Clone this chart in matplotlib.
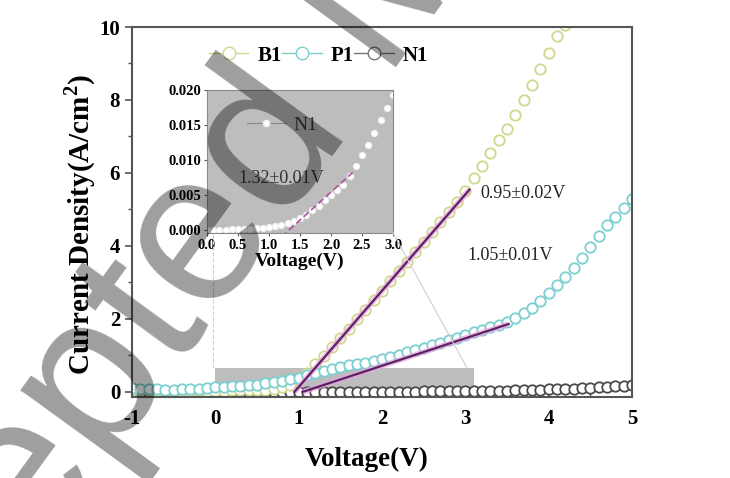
import numpy as np
import matplotlib
matplotlib.use("Agg")
import matplotlib.pyplot as plt

plt.rcParams["font.family"] = ["Liberation Serif", "DejaVu Serif"]
plt.rcParams["mathtext.fontset"] = "custom"
plt.rcParams["mathtext.rm"] = "Liberation Serif"
plt.rcParams["mathtext.bf"] = "Liberation Serif:bold"
plt.rcParams["axes.unicode_minus"] = False

# voltage sweep, -1 V to 5 V in 0.1 V steps
voltage = np.round(np.arange(-1.0, 5.01, 0.1), 2)

b1 = [0.04, 0.04, 0.04, 0.03, 0.03, 0.03, 0.03, 0.03, 0.03, 0.03,
      0.03, 0.03, 0.04, 0.04, 0.04, 0.05, 0.06, 0.08, 0.12, 0.20,
      0.32, 0.52, 0.76, 0.98, 1.22, 1.47, 1.73, 1.99, 2.25, 2.51,
      2.77, 3.04, 3.30, 3.57, 3.84, 4.11, 4.38, 4.65, 4.93, 5.21,
      5.50, 5.85, 6.20, 6.55, 6.90, 7.20, 7.60, 8.00, 8.40, 8.85,
      9.30, 9.75, 10.05, 10.50, 10.95, 11.40, 11.85, 12.30, 12.75, 13.20,
      13.65]
p1 = [0.10, 0.09, 0.08, 0.07, 0.06, 0.06, 0.07, 0.08, 0.09, 0.10,
      0.12, 0.13, 0.15, 0.16, 0.18, 0.20, 0.23, 0.26, 0.30, 0.34,
      0.39, 0.45, 0.51, 0.58, 0.64, 0.69, 0.73, 0.77, 0.80, 0.84,
      0.89, 0.95, 1.01, 1.08, 1.15, 1.21, 1.28, 1.35, 1.42, 1.49,
      1.56, 1.63, 1.70, 1.77, 1.84, 1.92, 2.03, 2.16, 2.31, 2.48,
      2.70, 2.93, 3.15, 3.40, 3.68, 3.98, 4.28, 4.56, 4.80, 5.05,
      5.28]
n1 = [0.0, 0.0, 0.0, 0.0, 0.0, 0.0, 0.0, 0.0, 0.0, 0.0,
      0.0, 0.0, 0.0, 0.0, 0.0001, 0.0001, 0.0002, 0.0002, 0.0003, 0.0003,
      0.0004, 0.0006, 0.0008, 0.0010, 0.0013, 0.0017, 0.0022, 0.0029, 0.0035, 0.0043,
      0.0050, 0.0057, 0.0064, 0.0077, 0.0092, 0.0107, 0.0122, 0.0139, 0.0157, 0.0175,
      0.0193, 0.022, 0.025, 0.029, 0.033, 0.037, 0.042, 0.047, 0.053, 0.059,
      0.066, 0.074, 0.082, 0.091, 0.101, 0.112, 0.124, 0.137, 0.151, 0.166,
      0.182]

# linear fits: (turn-on voltage, slope, end voltage)
fit_b1 = (0.95, 2.64, 3.05)
fit_p1 = (1.05, 0.753, 3.52)
fit_n1 = (1.32, 0.0080, 2.35)
labels_fit = ["0.95±0.02V", "1.05±0.01V", "1.32±0.01V"]

c_b1 = "#d2d68e"
c_p1 = "#7ccfd0"
c_n1 = "#4a4a4a"
c_fit = "#5e1f63"
c_spine = "#555555"

fig = plt.figure(figsize=(7.3, 4.78), dpi=100)
ax = fig.add_axes([0.1808, 0.1695, 0.685, 0.774])

mk = dict(marker="o", markersize=7.5, markerfacecolor="white", markeredgewidth=1.3, linestyle="none")
ax.plot(voltage, n1, markeredgecolor=c_n1, **mk)
ax.plot(voltage, b1, markeredgecolor=c_b1, **mk)
ax.plot(voltage, p1, markeredgecolor=c_p1, **mk)

for v0, k, v1 in (fit_b1, fit_p1):
    xs = np.array([v0, v1])
    ax.plot(xs, k * (xs - v0), color="#e6a6df", lw=4.0, alpha=0.7, solid_capstyle="butt")
    ax.plot(xs, k * (xs - v0), color=c_fit, lw=1.6)

ax.text(3.18, 5.45, labels_fit[0], fontsize=13, va="center", ha="left", color="#222222")
ax.text(3.02, 3.75, labels_fit[1], fontsize=13, va="center", ha="left", color="#222222")

# zoomed region marker
ax.fill_between([0, 3.1], -0.14, 0.66, color="#bdbdbd", zorder=0.5, lw=0)

ax.set_xlim(-1, 5)
ax.set_ylim(-0.14, 10)
ax.set_xticks(range(-1, 6))
ax.set_yticks(range(0, 11, 2))
ax.set_yticks(range(1, 10, 2), minor=True)
ax.set_xticks(np.arange(-0.5, 5, 1), minor=True)
ax.tick_params(axis="x", which="both", direction="in", colors=c_spine, labelcolor="black",
               labelsize=15, pad=9)
ax.tick_params(axis="y", which="both", direction="out", colors=c_spine, labelcolor="black",
               labelsize=15)
ax.tick_params(which="major", length=5, width=1.2)
ax.tick_params(which="minor", length=3, width=1.0)
for lab in ax.get_xticklabels() + ax.get_yticklabels():
    lab.set_fontweight("bold")
for s in ax.spines.values():
    s.set_color(c_spine)
    s.set_linewidth(1.5)
ax.set_xlabel("Voltage(V)", fontsize=19.5, fontweight="bold")
ax.xaxis.set_label_coords(0.47, -0.135)
ax.set_ylabel(r"Current Density(A/cm$^\mathbf{2}$)", fontsize=21, fontweight="bold")
ax.yaxis.set_label_coords(-0.068, 0.465)

# legend
h_b1, = ax.plot([], [], color=c_b1, marker="o", markersize=9, markerfacecolor="white", lw=1)
h_p1, = ax.plot([], [], color=c_p1, marker="o", markersize=9, markerfacecolor="white", lw=1)
h_n1, = ax.plot([], [], color="#777777", marker="o", markersize=9, markerfacecolor="white", lw=1)
ax.legend([h_b1, h_p1, h_n1], ["B1", "P1", "N1"], ncol=3, frameon=False,
          loc="upper left", bbox_to_anchor=(0.116, 1.0), handlelength=1.9, handletextpad=0.45,
          columnspacing=0.0, prop={"weight": "bold", "size": 15})

# inset
ins = fig.add_axes([0.2836, 0.5126, 0.2548, 0.299])
ins.set_facecolor("#bdbdbd")
ins.plot(voltage, n1, marker="o", markersize=4.5, markerfacecolor="white",
         markeredgecolor="#eeeeee", markeredgewidth=0.8, linestyle="none")
v0, k, v1 = fit_n1
xs = np.array([1.2, v1])
ins.plot(xs, k * (xs - v0), color="#b0509a", lw=1.2, ls=(0, (4, 2)))
ins.text(0.5, 0.0074, labels_fit[2], fontsize=13, va="center", ha="left", color="#333333")
hn, = ins.plot([], [], color="#888888", marker="o", markersize=4.5, markerfacecolor="white",
               markeredgecolor="#eeeeee", lw=0.8)
ins.legend([hn], ["N1"], frameon=False, loc="upper left", bbox_to_anchor=(0.12, 0.94),
           handlelength=2.0, handletextpad=0.4, prop={"size": 14}, labelcolor="#333333")
ins.set_xlim(0, 3.0)
ins.set_ylim(-0.0004, 0.020)
ins.set_xticks(np.arange(0, 3.01, 0.5))
ins.set_yticks(np.arange(0, 0.0201, 0.005))
ins.xaxis.set_major_formatter(matplotlib.ticker.FormatStrFormatter("%.1f"))
ins.yaxis.set_major_formatter(matplotlib.ticker.FormatStrFormatter("%.3f"))
ins.tick_params(labelsize=10.5, colors=c_spine, labelcolor="black", length=2, pad=2)
for lab in ins.get_xticklabels() + ins.get_yticklabels():
    lab.set_fontweight("bold")
for s in ins.spines.values():
    s.set_color("#8a8a8a")
ins.set_xlabel("Voltage(V)", fontsize=14, fontweight="bold", labelpad=1)

# connector lines from zoom box to inset
fig.add_artist(matplotlib.lines.Line2D([0.2918, 0.2918], [1 - 368 / 478, 1 - 233 / 478],
                                       color="#d0d0d0", lw=0.8, ls="--"))
fig.add_artist(matplotlib.lines.Line2D([467 / 730, 393 / 730], [1 - 368 / 478, 1 - 233 / 478],
                                       color="#d0d0d0", lw=0.8))

# journal watermark
fig.text(-0.2413, -0.789, "Accepted Manuscript", family="Liberation Sans", fontsize=155,
         rotation=54, rotation_mode="anchor", ha="left", va="baseline",
         color="black", alpha=0.38, zorder=10)

fig.savefig("out.png", dpi=100)
